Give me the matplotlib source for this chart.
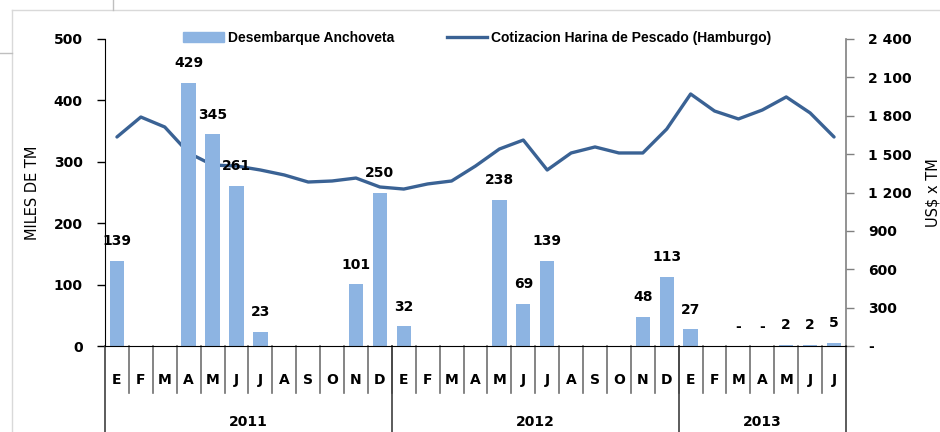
import matplotlib
matplotlib.use("Agg")
import matplotlib.pyplot as plt
from matplotlib.lines import Line2D
from matplotlib.patches import Patch
import matplotlib.transforms as mtrans

# datos
meses = ["E", "F", "M", "A", "M", "J", "J", "A", "S", "O", "N", "D",
         "E", "F", "M", "A", "M", "J", "J", "A", "S", "O", "N", "D",
         "E", "F", "M", "A", "M", "J", "J"]
anios = ["2011", "2012", "2013"]
meses_por_anio = [12, 12, 7]

desembarque = [139, 0, 0, 429, 345, 261, 23, 0, 0, 0, 101, 250,
               32, 0, 0, 0, 238, 69, 139, 0, 0, 0, 48, 113,
               27, 0, 0, 0, 2, 2, 5]
etiquetas = ["139", "", "", "429", "345", "261", "23", "", "", "", "101", "250",
             "32", "", "", "", "238", "69", "139", "", "", "", "48", "113",
             "27", "", "-", "-", "2", "2", "5"]
cotizacion = [1634, 1790, 1712, 1509, 1415, 1407, 1376, 1337, 1282, 1290, 1313, 1243,
              1227, 1267, 1290, 1407, 1540, 1610, 1376, 1509, 1556, 1509, 1509, 1696,
              1970, 1837, 1775, 1845, 1947, 1822, 1634]

c_barra = "#8db4e2"
c_linea = "#3a6294"

W, H = 940, 432
fig = plt.figure(figsize=(W / 100, H / 100), dpi=100)
x0, x1, ytop, ybot = 105, 846, 39, 346
ax = fig.add_axes([x0 / W, 1 - ybot / H, (x1 - x0) / W, (ybot - ytop) / H])
ax2 = ax.twinx()
ax.set_zorder(ax2.get_zorder() + 1)
ax.patch.set_visible(False)

x = list(range(len(meses)))
ax.bar(x, desembarque, width=0.6, color=c_barra, zorder=2)
ax2.plot(x, cotizacion, color=c_linea, lw=2.4, solid_capstyle="round")

for i in x:
    if etiquetas[i]:
        ax.annotate(etiquetas[i], (i, desembarque[i]), xytext=(0, 14),
                    textcoords="offset points", ha="center", va="center",
                    fontsize=10, fontweight="bold")

ax.set_xlim(-0.5, len(meses) - 0.5)
ax.set_ylim(0, 500)
ax.set_yticks(range(0, 501, 100))
ax2.set_ylim(0, 2400)
ax2.set_yticks(range(0, 2401, 300))
ax2.set_yticklabels(["-" if v == 0 else "{:,}".format(v).replace(",", " ")
                     for v in range(0, 2401, 300)])

for a in (ax, ax2):
    a.spines["top"].set_visible(False)
    a.set_xticks([])
ax.spines["right"].set_visible(False)
ax2.spines["left"].set_visible(False)
ax2.spines["bottom"].set_visible(False)
ax.spines["left"].set_color("#000000")
ax2.spines["right"].set_color("#808080")
ax2.spines["right"].set_linewidth(1.2)

ax.tick_params(axis="y", direction="out", length=6, pad=10, width=1,
               labelsize=10)
ax2.tick_params(axis="y", direction="out", length=6, pad=10, width=1,
                color="#808080", labelsize=10)
for lab in ax.get_yticklabels() + ax2.get_yticklabels():
    lab.set_fontweight("bold")

ax.set_ylabel("MILES DE TM", fontsize=10.5)
ax.yaxis.set_label_coords(-0.088, 0.5)
ax2.set_ylabel("US$ x TM", fontsize=10.5, rotation=90)
ax2.yaxis.set_label_coords(1.107, 0.5)

# eje de categorias en dos niveles
tr = mtrans.blended_transform_factory(ax.transData, ax.transAxes)
for i, m in enumerate(meses):
    ax.text(i, -0.11, m, transform=tr, ha="center", va="center",
            fontsize=10, fontweight="bold")
for i in range(1, len(meses)):
    ax.add_line(Line2D([i - 0.5, i - 0.5], [0, -0.153], transform=tr,
                       color="#707070", lw=1.2, clip_on=False))
bordes = [0]
for n in meses_por_anio:
    bordes.append(bordes[-1] + n)
for b in bordes:
    ax.add_line(Line2D([b - 0.5, b - 0.5], [0, -0.3], transform=tr,
                       color="#404040", lw=1.2, clip_on=False))
for k, a in enumerate(anios):
    c = (bordes[k] + bordes[k + 1]) / 2 - 0.5
    ax.text(c, -0.248, a, transform=tr, ha="center", va="center",
            fontsize=10, fontweight="bold")

# leyenda
h1 = Patch(color=c_barra)
h2 = Line2D([], [], color=c_linea, lw=2.4)
fig.legend([h1, h2], ["Desembarque Anchoveta",
                      "Cotizacion Harina de Pescado (Hamburgo)"],
           loc="center", bbox_to_anchor=(0.508, 1 - 38 / H), ncol=2,
           frameon=False, handlelength=2.9, columnspacing=3.8,
           handletextpad=0.3, prop={"family": "Liberation Sans",
                                    "weight": "bold", "size": 10})

# marco del grafico y lineas de celda
gris = "#d9d9d9"
fig.add_artist(Line2D([12 / W, 1], [1 - 10 / H, 1 - 10 / H], color=gris, lw=1))
fig.add_artist(Line2D([12 / W, 12 / W], [0, 1 - 10 / H], color=gris, lw=1))
fig.add_artist(Line2D([113 / W, 113 / W], [1 - 10 / H, 1], color="#bfbfbf", lw=1))
fig.add_artist(Line2D([0, 12 / W], [1 - 53 / H, 1 - 53 / H], color="#bfbfbf", lw=1))

fig.savefig("out.png", dpi=100)
